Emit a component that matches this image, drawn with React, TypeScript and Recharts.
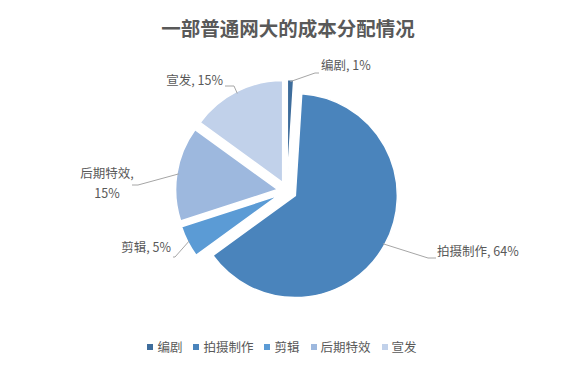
import React from "react";
import { PieChart, Pie, Cell, Sector, Legend } from "recharts";

const categories = ["编剧", "拍摄制作", "剪辑", "后期特效", "宣发"];
const shares = [1, 64, 5, 15, 15];
const labelTexts = ["编剧, 1%", "拍摄制作, 64%", "剪辑, 5%", "后期特效,|15%", "宣发, 15%"];

const COLORS = ["#3E6D9C", "#4A84BC", "#5B9BD5", "#9DB8DE", "#C1D1EA"];

const CX = 282;
const CY = 186;
const R = 102;
const EXPLODE = 9.5;
const RAD = Math.PI / 180;

// elbow + text placement per slice, relative to the pie center
const LABEL_LAYOUT = [
  { elbow: [28, -118], end: [32, -118], text: [34, -121], anchor: "start" },
  { elbow: [141, 67], end: [149, 67], text: [150, 65], anchor: "start" },
  { elbow: [-112, 66], end: [-114, 66], text: [-116, 61], anchor: "end" },
  { elbow: [-149, -6], end: [-155, -6], text: [-180, -13], anchor: "middle" },
  { elbow: [-53, -105], end: [-62, -105], text: [-64, -106], anchor: "end" },
];

const data = categories.map((name, i) => ({ name, value: shares[i] }));

function ExplodedSector(props: any) {
  const { cx, cy, midAngle } = props;
  const dx = EXPLODE * Math.cos(-midAngle * RAD);
  const dy = EXPLODE * Math.sin(-midAngle * RAD);
  return <Sector {...props} cx={cx + dx} cy={cy + dy} stroke="#fff" strokeWidth={1.5} />;
}

function renderLabel(props: any) {
  const { cx, cy, midAngle, outerRadius, index } = props;
  const r = outerRadius + EXPLODE - 2;
  const sx = cx + r * Math.cos(-midAngle * RAD);
  const sy = cy + r * Math.sin(-midAngle * RAD);
  const lay = LABEL_LAYOUT[index];
  const parts = labelTexts[index].split("|");
  const tx = cx + lay.text[0];
  const ty = cy + lay.text[1];
  return (
    <g key={`lbl-${index}`}>
      <polyline
        points={`${sx},${sy} ${cx + lay.elbow[0]},${cy + lay.elbow[1]} ${cx + lay.end[0]},${cy + lay.end[1]}`}
        fill="none"
        stroke="#A6A6A6"
        strokeWidth={1}
      />
      <text x={tx} y={ty} textAnchor={lay.anchor} fontSize={12.5} fill="#595959">
        {parts.map((p, k) => (
          <tspan key={k} x={tx} dy={k === 0 ? 0 : 20}>
            {p}
          </tspan>
        ))}
      </text>
    </g>
  );
}

function LegendContent() {
  return (
    <div style={{ display: "flex", justifyContent: "center", gap: 11, fontSize: 12.5, color: "#595959" }}>
      {categories.map((c, i) => (
        <div key={c} style={{ display: "flex", alignItems: "center" }}>
          <span style={{ width: 6, height: 6, background: COLORS[i], marginRight: 4, display: "inline-block" }} />
          <span>{c}</span>
        </div>
      ))}
    </div>
  );
}

export default function App() {
  return (
    <div
      style={{
        position: "absolute",
        left: 0,
        top: 0,
        width: 576,
        height: 366,
        background: "#fff",
        fontFamily: "'Noto Sans CJK SC', 'Noto Sans', sans-serif",
      }}
    >
      <div
        style={{
          position: "absolute",
          top: 15,
          left: 0,
          width: 576,
          textAlign: "center",
          fontSize: 19.5,
          fontWeight: 700,
          color: "#595959",
          lineHeight: "26px",
        }}
      >
        一部普通网大的成本分配情况
      </div>
      <PieChart width={576} height={366}>
        <Pie
          data={data}
          dataKey="value"
          nameKey="name"
          cx={CX}
          cy={CY}
          outerRadius={R}
          startAngle={90}
          endAngle={-270}
          shape={ExplodedSector}
          label={renderLabel}
          labelLine={false}
          isAnimationActive={false}
        >
          {data.map((_, i) => (
            <Cell key={`cell-${i}`} fill={COLORS[i]} />
          ))}
        </Pie>
        <Legend content={<LegendContent />} wrapperStyle={{ position: "absolute", top: 337, left: -6, width: 576 }} />
      </PieChart>
    </div>
  );
}
